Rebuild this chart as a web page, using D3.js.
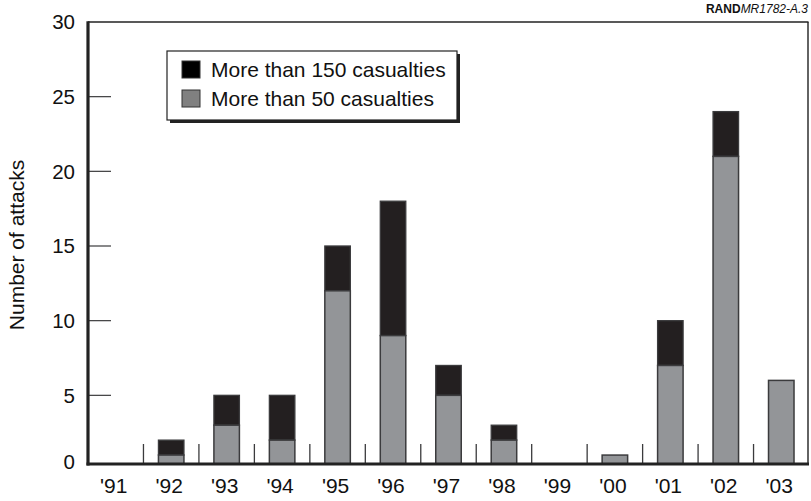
<!DOCTYPE html>
<html><head><meta charset="utf-8">
<script src="https://cdn.jsdelivr.net/npm/d3@7"></script>
<style>body{margin:0;background:#fff}svg{display:block;font-family:"Liberation Sans",Arial,Helvetica,sans-serif}</style>
</head><body><svg id="c" width="811" height="501"></svg>
<script>
const years = ["'91","'92","'93","'94","'95","'96","'97","'98","'99","'00","'01","'02","'03"];
const over50 = [0,1,3,2,12,9,5,2,0,1,7,21,6];
const total  = [0,2,5,5,15,18,7,3,0,1,10,24,6];
const yTicks = [0,5,10,15,20,25,30];
const legendLabels = ["More than 150 casualties","More than 50 casualties"];

(function(){
const svg = d3.select("#c");
const L = 88, R = 809, T = 22, base = 464;
const x = d3.scaleBand().domain(years).range([L, R]).padding(0);
const y = d3.scaleLinear().domain([0,30]).range([470,22]);
const bw = 25.5;
const dark = "#231f20", gray = "#939598", edge = "#3b3b3d";

// separators
svg.append("g").selectAll("line").data(years.slice(1)).join("line")
  .attr("x1", d => x(d)).attr("x2", d => x(d))
  .attr("y1", base - 20).attr("y2", base)
  .attr("stroke", edge).attr("stroke-width", 1.3);

// bars
const g = svg.append("g");
years.forEach((yr, i) => {
  const cx = x(yr) + x.bandwidth()/2;
  if (total[i] > over50[i]) {
    g.append("rect").attr("x", cx - bw/2).attr("width", bw)
      .attr("y", y(total[i])).attr("height", (over50[i] > 0 ? y(over50[i]) : base) - y(total[i]))
      .attr("fill", dark).attr("stroke", edge).attr("stroke-width", 1.3);
  }
  if (over50[i] > 0) {
    g.append("rect").attr("x", cx - bw/2).attr("width", bw)
      .attr("y", y(over50[i])).attr("height", base - y(over50[i]))
      .attr("fill", gray).attr("stroke", edge).attr("stroke-width", 1.5);
  }
});

// y ticks (inside)
svg.append("g").selectAll("line").data(yTicks.filter(v => v > 0 && v < 30)).join("line")
  .attr("x1", L).attr("x2", L + 23)
  .attr("y1", d => y(d)).attr("y2", d => y(d))
  .attr("stroke", edge).attr("stroke-width", 1.2);
svg.append("g").selectAll("text").data(yTicks).join("text")
  .attr("x", 75).attr("y", d => d === 0 ? base - 2 : y(d))
  .attr("dy", "0.36em").attr("text-anchor", "end")
  .attr("font-size", 20.5).attr("fill", "#111").text(d => d);

// frame
svg.append("line").attr("x1", L).attr("x2", R - 0.5).attr("y1", T).attr("y2", T)
  .attr("stroke", "#222").attr("stroke-width", 1.4);
svg.append("line").attr("x1", R - 1).attr("x2", R - 1).attr("y1", T).attr("y2", base)
  .attr("stroke", "#222").attr("stroke-width", 1.4);
svg.append("line").attr("x1", L).attr("x2", L).attr("y1", T - 0.7).attr("y2", base + 1.5)
  .attr("stroke", "#222").attr("stroke-width", 3.2);
svg.append("line").attr("x1", L - 1.5).attr("x2", R).attr("y1", base).attr("y2", base)
  .attr("stroke", "#222").attr("stroke-width", 3.2);

// x labels
svg.append("g").selectAll("text").data(years).join("text")
  .attr("x", d => x(d) + x.bandwidth()/2 - 2).attr("y", 493)
  .attr("text-anchor", "middle").attr("font-size", 21).attr("fill", "#111").text(d => d);

// y title
svg.append("text").attr("transform", "translate(24,245) rotate(-90)")
  .attr("text-anchor", "middle").attr("font-size", 21).attr("fill", "#111").text("Number of attacks");

// source
const src = svg.append("text").attr("x", 808).attr("y", 13).attr("text-anchor", "end")
  .attr("font-size", 12).attr("fill", "#111");
src.append("tspan").attr("font-weight", "bold").text("RAND");
src.append("tspan").attr("font-style", "italic").text("MR1782-A.3");

// legend
const lg = svg.append("g");
lg.append("rect").attr("x", 170).attr("y", 54).attr("width", 290).attr("height", 69).attr("fill", "#222");
lg.append("rect").attr("x", 167).attr("y", 51).attr("width", 290).attr("height", 69)
  .attr("fill", "#fff").attr("stroke", "#222").attr("stroke-width", 1.2);
const swatch = [ "#000", "#808080" ];
legendLabels.forEach((t, i) => {
  const yy = 61 + i * 29;
  lg.append("rect").attr("x", 182).attr("y", yy).attr("width", 18).attr("height", 17)
    .attr("fill", swatch[i]).attr("stroke", "#333").attr("stroke-width", 1);
  lg.append("text").attr("x", 211).attr("y", yy + 16).attr("font-size", 21).attr("fill", "#111").text(t);
});
})();
</script></body></html>
